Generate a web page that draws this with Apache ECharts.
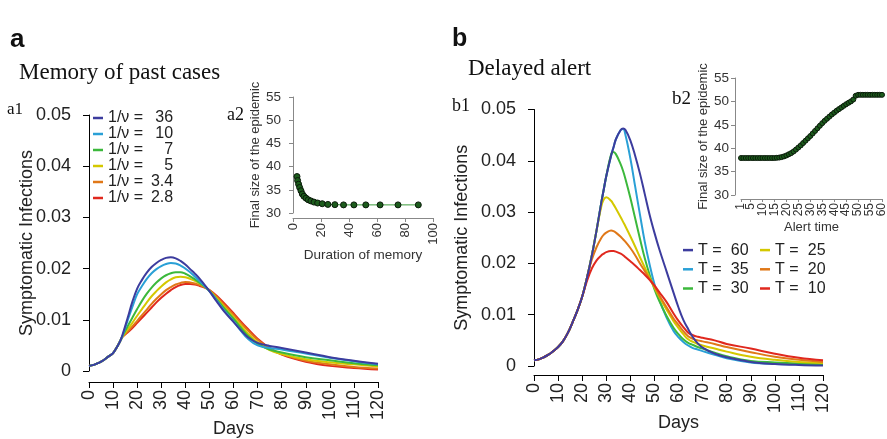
<!DOCTYPE html>
<html>
<head>
<meta charset="utf-8">
<script src="https://cdn.jsdelivr.net/npm/echarts@6/dist/echarts.min.js"></script>
<style>html,body{margin:0;padding:0;background:#fff}#c{width:887px;height:439px}</style>
</head>
<body>
<div id="c"></div>
<script>
// ---------- Panel a1: memory of past cases ----------
const daysA = [0,2,4,6,8,10,12,13,14,16,18,20,22,24,26,28,30,32,34,36,38,40,42,44,46,48,50,53,56,60,63,66,70,75,80,90,100,110,120];
const a1_36  = [0.0010,0.0012,0.0016,0.0021,0.0028,0.0035,0.0050,0.0059,0.0072,0.0103,0.0135,0.0161,0.0178,0.0192,0.0203,0.0211,0.0217,0.0221,0.0222,0.0220,0.0215,0.0208,0.0199,0.0190,0.0180,0.0168,0.0156,0.0136,0.0117,0.0096,0.0080,0.0066,0.0055,0.0049,0.0045,0.0036,0.0027,0.0020,0.0014];
const a1_10  = [0.0010,0.0012,0.0016,0.0021,0.0028,0.0035,0.0050,0.0059,0.0070,0.0098,0.0125,0.0150,0.0166,0.0180,0.0191,0.0199,0.0205,0.0209,0.0211,0.0210,0.0206,0.0200,0.0193,0.0184,0.0175,0.0166,0.0156,0.0138,0.0119,0.0097,0.0079,0.0063,0.0050,0.0045,0.0042,0.0034,0.0026,0.0019,0.0013];
const a1_7   = [0.0010,0.0012,0.0016,0.0021,0.0028,0.0035,0.0050,0.0059,0.0069,0.0087,0.0104,0.0121,0.0137,0.0151,0.0163,0.0173,0.0181,0.0187,0.0191,0.0193,0.0193,0.0190,0.0185,0.0179,0.0172,0.0165,0.0156,0.0140,0.0123,0.0102,0.0085,0.0069,0.0053,0.0042,0.0036,0.0027,0.0021,0.0015,0.0011];
const a1_5   = [0.0010,0.0012,0.0016,0.0021,0.0028,0.0035,0.0050,0.0059,0.0068,0.0081,0.0094,0.0108,0.0121,0.0134,0.0146,0.0156,0.0165,0.0173,0.0179,0.0183,0.0184,0.0183,0.0180,0.0176,0.0171,0.0165,0.0157,0.0142,0.0126,0.0105,0.0089,0.0073,0.0056,0.0041,0.0033,0.0023,0.0017,0.0013,0.0009];
const a1_34  = [0.0010,0.0012,0.0016,0.0021,0.0028,0.0035,0.0050,0.0059,0.0067,0.0077,0.0087,0.0098,0.0109,0.0120,0.0131,0.0141,0.0150,0.0158,0.0164,0.0169,0.0172,0.0174,0.0173,0.0171,0.0168,0.0164,0.0158,0.0145,0.0130,0.0110,0.0094,0.0079,0.0061,0.0044,0.0033,0.0020,0.0013,0.0008,0.0005];
const a1_28  = [0.0010,0.0012,0.0016,0.0021,0.0028,0.0035,0.0050,0.0059,0.0067,0.0075,0.0084,0.0094,0.0104,0.0114,0.0124,0.0134,0.0143,0.0151,0.0158,0.0164,0.0168,0.0170,0.0170,0.0169,0.0166,0.0163,0.0158,0.0147,0.0133,0.0113,0.0097,0.0082,0.0063,0.0045,0.0032,0.0018,0.0010,0.0006,0.0003];
const a1Names = ['36','10','7','5','3.4','2.8'];

// ---------- Panel a2: final size vs duration of memory ----------
const memDuration = [2.85,3.3,4.0,4.75,5.7,6.65,7.8,9.3,10.9,12.8,15,17.6,20.9,24.9,29.9,36.1,43.5,52,62.2,75,89.5];
const memFinal    = [37.86,37.0,36.2,35.5,34.8,34.1,33.6,33.2,32.85,32.6,32.35,32.15,32.0,31.85,31.8,31.75,31.75,31.75,31.75,31.75,31.75];

// ---------- Panel b1: delayed alert ----------
const daysB = [0,2,4,6,8,10,12,14,16,18,20,22,24,26,28,29,30,32,33,34,36,37,38,40,42,44,46,48,50,52,55,58,60,62,64,66,68,70,75,80,90,100,110,120];
const b1_60 = [0.0011,0.0013,0.0017,0.0022,0.0029,0.0037,0.0048,0.0064,0.0085,0.0108,0.0135,0.0172,0.0215,0.0265,0.0320,0.0345,0.0370,0.0410,0.0426,0.0442,0.0460,0.0463,0.0460,0.0440,0.0410,0.0375,0.0335,0.0295,0.0260,0.0228,0.0185,0.0142,0.0114,0.0090,0.0072,0.0056,0.0044,0.0036,0.0024,0.0017,0.0008,0.0004,0.0002,0.0001];
const b1_35 = [0.0011,0.0013,0.0017,0.0022,0.0029,0.0037,0.0048,0.0064,0.0085,0.0108,0.0135,0.0172,0.0215,0.0265,0.0320,0.0345,0.0370,0.0410,0.0426,0.0442,0.0460,0.0462,0.0450,0.0405,0.0350,0.0295,0.0242,0.0198,0.0160,0.0130,0.0095,0.0068,0.0056,0.0047,0.0040,0.0035,0.0032,0.0029,0.0022,0.0015,0.0007,0.0004,0.0003,0.0002];
const b1_30 = [0.0011,0.0013,0.0017,0.0022,0.0029,0.0037,0.0048,0.0064,0.0085,0.0108,0.0135,0.0172,0.0215,0.0265,0.0320,0.0345,0.0370,0.0412,0.0417,0.0413,0.0393,0.0380,0.0364,0.0328,0.0288,0.0248,0.0210,0.0178,0.0150,0.0127,0.0098,0.0074,0.0062,0.0052,0.0045,0.0041,0.0037,0.0034,0.0026,0.0019,0.0010,0.0007,0.0005,0.0004];
const b1_25 = [0.0011,0.0013,0.0017,0.0022,0.0029,0.0037,0.0048,0.0064,0.0085,0.0108,0.0135,0.0172,0.0215,0.0265,0.0312,0.0325,0.0329,0.0322,0.0315,0.0307,0.0290,0.0281,0.0272,0.0253,0.0233,0.0212,0.0192,0.0172,0.0153,0.0135,0.0110,0.0087,0.0074,0.0062,0.0052,0.0047,0.0043,0.0040,0.0034,0.0028,0.0018,0.0012,0.0008,0.0006];
const b1_20 = [0.0011,0.0013,0.0017,0.0022,0.0029,0.0037,0.0048,0.0064,0.0085,0.0108,0.0135,0.0172,0.0207,0.0232,0.0250,0.0256,0.0260,0.0264,0.0263,0.0260,0.0252,0.0247,0.0242,0.0230,0.0216,0.0200,0.0185,0.0170,0.0155,0.0138,0.0115,0.0092,0.0080,0.0068,0.0058,0.0053,0.0050,0.0048,0.0043,0.0037,0.0027,0.0018,0.0012,0.0008];
const b1_10 = [0.0011,0.0013,0.0017,0.0022,0.0029,0.0037,0.0048,0.0064,0.0085,0.0108,0.0135,0.0166,0.0190,0.0206,0.0216,0.0219,0.0222,0.0224,0.0224,0.0223,0.0219,0.0216,0.0212,0.0204,0.0196,0.0187,0.0178,0.0168,0.0157,0.0144,0.0125,0.0102,0.0088,0.0076,0.0065,0.0060,0.0057,0.0055,0.0050,0.0043,0.0034,0.0024,0.0016,0.0011];
const b1Names = ['60','35','30','25','20','10'];
const refLevel = 0.01;

// ---------- Panel b2: final size vs alert time ----------
const alertTime = Array.from({length:60},(_,i)=>i+1);
const alertTicks = [1,5,10,15,20,25,30,35,40,45,50,55,60];
const alertFinal = [37.9,37.9,37.9,37.9,37.9,37.9,37.9,37.9,37.9,37.9,37.9,37.9,37.9,37.9,37.9,37.95,38.0,38.1,38.25,38.45,38.7,38.95,39.3,39.7,40.15,40.6,41.1,41.6,42.1,42.6,43.15,43.7,44.25,44.8,45.35,45.85,46.3,46.75,47.2,47.6,48.0,48.35,48.7,49.05,49.4,49.7,50.0,50.4,51.2,51.4,51.4,51.4,51.4,51.4,51.4,51.4,51.4,51.4,51.4,51.4];

const colors = ['#3c3c9e','#2aa0d6','#3cb83c','#d4c800','#e07818','#e0281e'];
const SANS = 'Liberation Sans, Arial, Helvetica, sans-serif';
const SERIF = 'Liberation Serif, Times New Roman, serif';

function mainY(gi, nameGap){
  return {type:'value', gridIndex:gi, min:0, max:0.05, interval:0.01, offset:8,
    name:'Symptomatic Infections', nameLocation:'middle', nameGap:nameGap, nameMoveOverlap:false,
    nameTextStyle:{fontFamily:SANS, fontSize:18, color:'#222'},
    axisLine:{show:true, lineStyle:{color:'#000', width:1}},
    axisTick:{show:true, length:6, lineStyle:{color:'#000'}},
    splitLine:{show:false},
    axisLabel:{fontFamily:SANS, fontSize:18, color:'#222', margin:10,
      formatter:v=> v===0 ? '0' : v.toFixed(2)}};
}
function mainX(gi, offset, nameGap){
  return {type:'value', gridIndex:gi, min:0, max:120, interval:10, offset:offset,
    name:'Days', nameLocation:'middle', nameGap:nameGap, nameMoveOverlap:false,
    nameTextStyle:{fontFamily:SANS, fontSize:18, color:'#222'},
    axisLine:{show:true, onZero:false, lineStyle:{color:'#000', width:1}},
    axisTick:{show:true, length:6, lineStyle:{color:'#000'}},
    splitLine:{show:false},
    axisLabel:{fontFamily:SANS, fontSize:18, color:'#222', rotate:90, margin:8}};
}
function insetY(gi, nameGap){
  return {type:'value', gridIndex:gi, min:30, max:55, interval:5, offset:6,
    name:'Final size of the epidemic', nameLocation:'middle', nameGap:nameGap,
    nameTextStyle:{fontFamily:SANS, fontSize:13, color:'#333'},
    axisLine:{show:true, lineStyle:{color:'#888', width:1}},
    axisTick:{show:true, length:4, lineStyle:{color:'#888'}},
    splitLine:{show:false},
    axisLabel:{fontFamily:SANS, fontSize:13.5, color:'#333', margin:6}};
}

const lineSeries = (names, arrs, days, xi, yi, prefix) => names.map((n,i)=>({
  type:'line', name:prefix+n, xAxisIndex:xi, yAxisIndex:yi,
  data: days.map((d,k)=>[d, arrs[i][k]]),
  showSymbol:false, smooth:0.4,
  color:colors[i], lineStyle:{color:colors[i], width:2}, z:10-i
}));

const aSeries = lineSeries(a1Names,[a1_36,a1_10,a1_7,a1_5,a1_34,a1_28],daysA,0,0,'a');
const bSeries = lineSeries(b1Names,[b1_60,b1_35,b1_30,b1_25,b1_20,b1_10],daysB,2,2,'b');
bSeries.forEach((s,i)=>{ s.z = 4+i; });
bSeries[0].z = 10;
bSeries[0].clip = false;
bSeries[0].markLine = {silent:true, symbol:'none', label:{show:false},
  lineStyle:{color:'#cccccc', width:1, type:'solid'}, animation:false,
  data:[[{coord:[-3.3, refLevel]},{coord:[124.9, refLevel]}]]};

function legendA(){
  return {data:a1Names.map(n=>'a'+n), orient:'vertical', left:93, top:110, itemGap:0, padding:0,
    icon:'rect', itemWidth:10, itemHeight:2.5, selectedMode:false,
    formatter:name=>'{a|1/ν =}{b|'+name.slice(1)+'}',
    textStyle:{fontFamily:SANS, fontSize:16, color:'#222', lineHeight:15.8,
      rich:{a:{fontFamily:SANS, fontSize:16, color:'#222', lineHeight:15.8},
            b:{fontFamily:SANS, fontSize:16, color:'#222', lineHeight:15.8, width:30, align:'right'}}}};
}
function legendB(names, left){
  return {data:names.map(n=>'b'+n), orient:'vertical', left:left, top:240.5, itemGap:0, padding:0,
    icon:'rect', itemWidth:10, itemHeight:2.5, selectedMode:false,
    formatter:name=>'{a|T =}{b|'+name.slice(1)+'}',
    textStyle:{fontFamily:SANS, fontSize:16, color:'#222', lineHeight:19.2,
      rich:{a:{fontFamily:SANS, fontSize:16, color:'#222', lineHeight:19.2},
            b:{fontFamily:SANS, fontSize:16, color:'#222', lineHeight:19.2, width:27, align:'right'}}}};
}

const txt = (text, x, y, font) => ({type:'text', x:x, y:y, silent:true,
  style:{text:text, font:font, fill:'#111', textVerticalAlign:'alphabetic'}});

const alertLabelStyle = {fontFamily:SANS, fontSize:12, color:'#333', rotate:90, margin:4,
  showMinLabel:true, showMaxLabel:true, hideOverlap:false};

const option = {
  animation:false,
  backgroundColor:'#fff',
  grid:[
    {left:89, right:509, top:115, bottom:68, outerBoundsMode:'none'},
    {left:293, right:454, top:97, bottom:226, outerBoundsMode:'none'},
    {left:534, right:64, top:109.5, bottom:73, outerBoundsMode:'none'},
    {left:741, right:5, top:78, bottom:244, outerBoundsMode:'none'}
  ],
  xAxis:[
    mainX(0, 11, 38.5),
    {type:'value', gridIndex:1, min:0, max:100, interval:20, offset:5,
      name:'Duration of memory', nameLocation:'middle', nameGap:28,
      nameTextStyle:{fontFamily:SANS, fontSize:13.5, color:'#333'},
      axisLine:{show:true, onZero:false, lineStyle:{color:'#888'}},
      axisTick:{show:true, length:4, lineStyle:{color:'#888'}},
      splitLine:{show:false},
      axisLabel:{fontFamily:SANS, fontSize:13, color:'#333', rotate:90, margin:5}},
    mainX(2, 9, 39.5),
    {type:'value', gridIndex:3, min:1, max:60, offset:4,
      name:'Alert time', nameLocation:'middle', nameGap:22,
      nameTextStyle:{fontFamily:SANS, fontSize:13, color:'#333'},
      axisLine:{show:true, onZero:false, lineStyle:{color:'#888'}},
      axisTick:{show:true, length:3, lineStyle:{color:'#888'}, customValues:alertTicks},
      splitLine:{show:false},
      axisLabel:Object.assign({}, alertLabelStyle, {customValues:alertTicks.slice(1), showMinLabel:true})},
    {type:'value', gridIndex:3, min:1, max:60, offset:4, position:'bottom',
      axisLine:{show:false}, axisTick:{show:false}, splitLine:{show:false},
      axisLabel:Object.assign({}, alertLabelStyle, {customValues:alertTicks.slice(0,1)})}
  ],
  yAxis:[ mainY(0, 45), insetY(1, 24), mainY(2, 55), insetY(3, 24) ],
  legend:[ legendA(), legendB(b1Names.slice(0,3), 683), legendB(b1Names.slice(3), 760) ],
  series:[
    ...aSeries,
    {type:'line', name:'memory', xAxisIndex:1, yAxisIndex:1,
      data:memDuration.map((d,i)=>[d, memFinal[i]]),
      symbol:'circle', symbolSize:6, showSymbol:true, showAllSymbol:true,
      lineStyle:{color:'#3a9a3a', width:1},
      itemStyle:{color:'#1c5c1c', borderColor:'#0a1a0a', borderWidth:1}},
    ...bSeries,
    {type:'line', name:'alert', xAxisIndex:3, yAxisIndex:3,
      data:alertTime.map((t,i)=>[t, alertFinal[i]]),
      symbol:'circle', symbolSize:5, showSymbol:true, showAllSymbol:true,
      lineStyle:{color:'#3a9a3a', width:1},
      itemStyle:{color:'#1c5c1c', borderColor:'#0a1a0a', borderWidth:1}}
  ],
  graphic:[
    txt('a', 10, 27, 'bold 26px '+SANS),
    txt('b', 452, 27, 'bold 25px '+SANS),
    txt('Memory of past cases', 19, 61, '23px '+SERIF),
    txt('Delayed alert', 468, 57, '23px '+SERIF),
    txt('a1', 7, 101, '17px '+SERIF),
    txt('a2', 227, 106, '18px '+SERIF),
    txt('b1', 452, 97, '18px '+SERIF),
    txt('b2', 672, 90, '19px '+SERIF)
  ]
};
const chart = echarts.init(document.getElementById('c'), null, {renderer:'canvas'});
chart.setOption(option);
</script>
</body>
</html>
